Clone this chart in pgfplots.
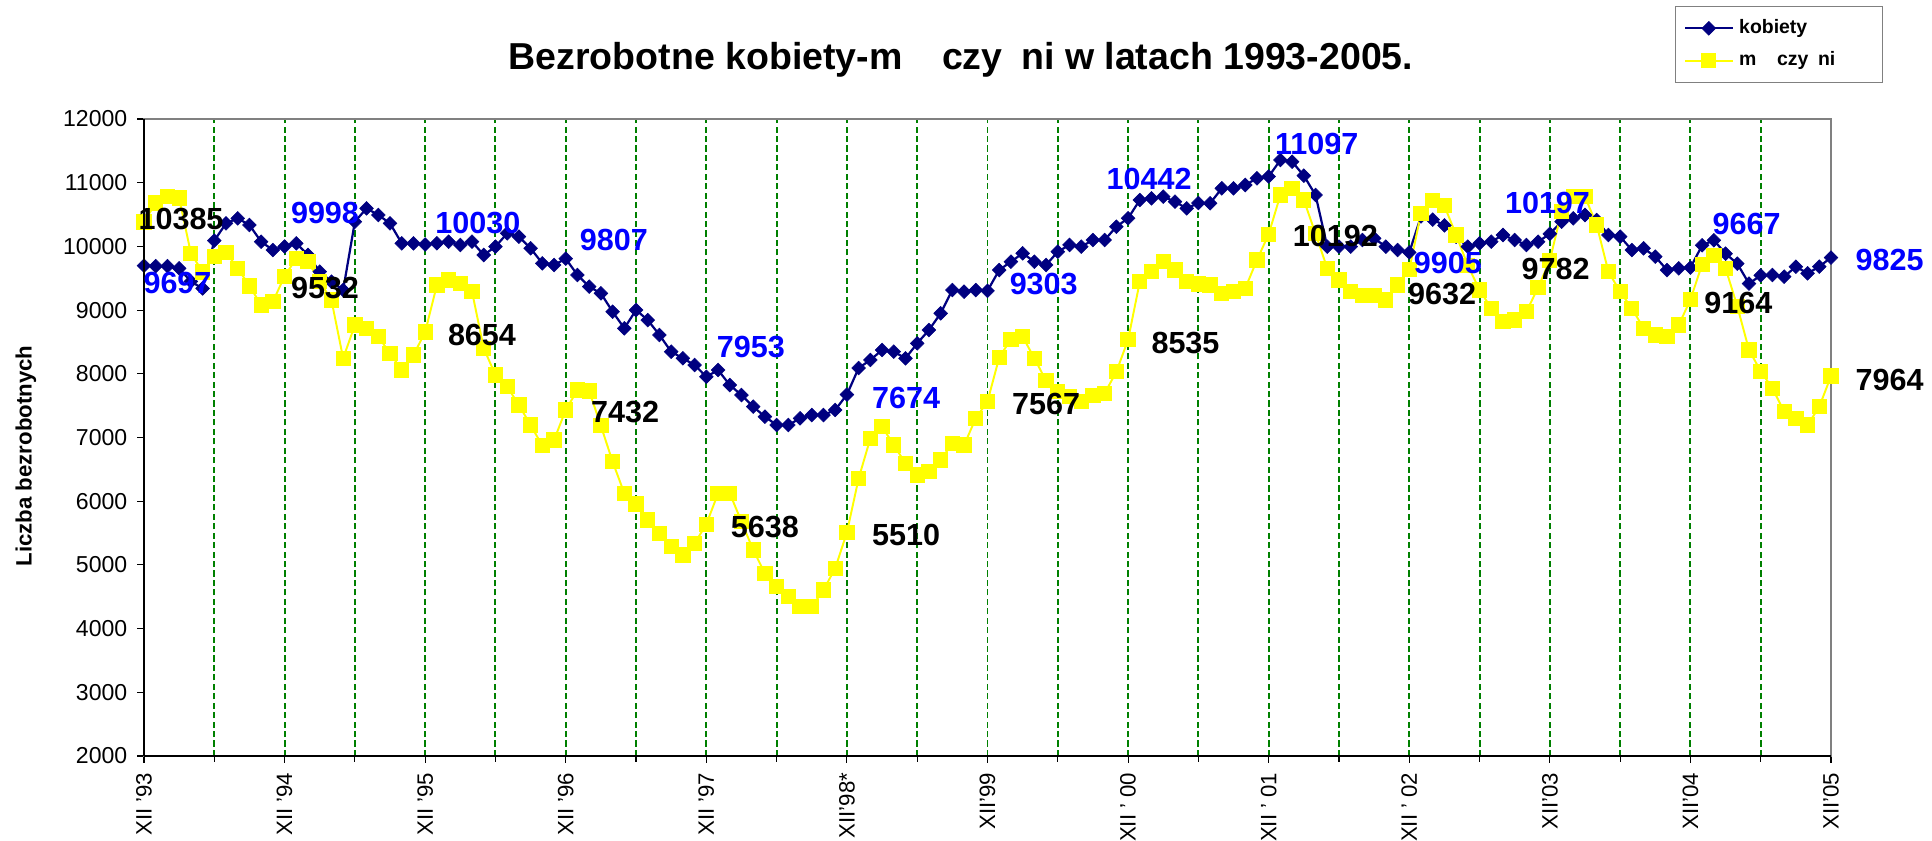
\documentclass[border=0pt]{standalone}
\usepackage{fontspec}
\setmainfont{Liberation Sans}
\usepackage{pgfplots}
\pgfplotsset{compat=1.18}
\usepackage{pgfplotstable}
\definecolor{kob}{RGB}{0,0,128}
\definecolor{mez}{RGB}{255,255,0}
\definecolor{lblue}{RGB}{0,0,255}
\definecolor{grn}{RGB}{0,128,0}

\pgfplotstableread{
i k m
0 9697 10385
1 9690 10680
2 9690 10785
3 9655 10760
4 9450 9893
5 9340 9600
6 10090 9840
7 10362 9905
8 10440 9658
9 10336 9380
10 10074 9080
11 9943 9132
12 9998 9532
13 10048 9813
14 9865 9760
15 9603 9450
16 9446 9158
17 9315 8243
18 10388 8766
19 10597 8714
20 10493 8583
21 10362 8321
22 10048 8060
23 10048 8295
24 10030 8654
25 10048 9394
26 10074 9472
27 10022 9420
28 10074 9289
29 9865 8400
30 9996 7981
31 10205 7798
32 10153 7510
33 9970 7196
34 9734 6870
35 9708 6961
36 9807 7432
37 9551 7745
38 9368 7730
39 9263 7183
40 8975 6620
41 8714 6123
42 9001 5956
43 8844 5705
44 8609 5495
45 8347 5286
46 8243 5155
47 8138 5338
48 7953 5638
49 8060 6123
50 7824 6123
51 7667 5680
52 7484 5234
53 7327 4868
54 7196 4659
55 7196 4501
56 7301 4344
57 7353 4344
58 7353 4606
59 7432 4946
60 7674 5510
61 8090 6358
62 8217 6986
63 8374 7170
64 8347 6882
65 8243 6594
66 8478 6411
67 8687 6463
68 8949 6647
69 9315 6908
70 9289 6882
71 9315 7301
72 9303 7567
73 9629 8256
74 9760 8544
75 9891 8583
76 9760 8243
77 9708 7890
78 9917 7720
79 10022 7641
80 9996 7563
81 10100 7654
82 10100 7693
83 10310 8033
84 10442 8535
85 10728 9446
86 10755 9603
87 10781 9760
88 10702 9629
89 10597 9446
90 10680 9410
91 10676 9394
92 10912 9263
93 10912 9289
94 10964 9342
95 11069 9786
96 11097 10192
97 11356 10807
98 11330 10912
99 11110 10728
100 10807 10200
101 9996 9656
102 9996 9472
103 9996 9289
104 10100 9224
105 10126 9224
106 9996 9158
107 9943 9394
108 9905 9632
109 10470 10519
110 10420 10715
111 10330 10637
112 10150 10179
113 9996 9700
114 10048 9316
115 10074 9028
116 10179 8818
117 10100 8844
118 10022 8975
119 10074 9355
120 10197 9782
121 10388 10545
122 10441 10781
123 10493 10781
124 10414 10336
125 10179 9603
126 10153 9289
127 9943 9028
128 9970 8714
129 9839 8609
130 9629 8583
131 9656 8766
132 9667 9164
133 10017 9720
134 10096 9852
135 9886 9656
136 9729 9060
137 9416 8374
138 9545 8040
139 9551 7772
140 9525 7405
141 9682 7301
142 9577 7196
143 9682 7484
144 9825 7964
}\data

\newcommand{\lbl}{\fontsize{11}{13}\selectfont\bfseries}

\begin{document}
\begin{tikzpicture}
\useasboundingbox (-51.84pt,-30.24pt) rectangle (643.68pt,272.16pt);
\begin{axis}[
  at={(0pt,0pt)}, anchor=south west,
  scale only axis, width=607.32pt, height=229.32pt,
  xmin=0, xmax=144, ymin=2000, ymax=12000,
  xtick={0,12,...,144},
  xticklabels={XII '93,XII '94,XII '95,XII '96,XII '97,XII'98*,XII'99,XII ' 00,XII ' 01,XII ' 02,XII'03,XII'04,XII'05},
  minor xtick={6,18,...,138},
  ytick={2000,3000,...,12000},
  scaled y ticks=false,
  xmajorgrids, xminorgrids,
  major grid style={grn, dash pattern=on 2.2pt off 1.2pt, line width=0.7pt},
  minor grid style={grn, dash pattern=on 2.2pt off 1.2pt, line width=0.7pt},
  tick align=outside, tick pos=left,
  major tick length=2.5pt, minor tick length=2pt,
  tick style={black, line width=0.4pt},
  axis line style={draw=gray, line width=0.8pt},
  yticklabel style={font=\fontsize{8.3}{9}\selectfont},
  xticklabel style={rotate=90, anchor=east, font=\fontsize{8}{9}\selectfont},
  /pgf/number format/assume math mode=true,
  /pgf/number format/set thousands separator={},
  ylabel={Liczba bezrobotnych},
  ylabel style={at={(axis description cs:-0.070,0.471)}, anchor=center, font=\fontsize{8}{9}\selectfont\bfseries},
  clip=false,
  legend style={at={(axis description cs:0.9075,1.1774)}, anchor=north west, draw=gray, line width=0.5pt, font=\fontsize{7}{8}\selectfont\bfseries, row sep=1.0pt, inner xsep=3pt, inner ysep=2.5pt, cells={anchor=west}},
]
\addplot[color=kob, line width=0.8pt, mark=square*, mark size=1.75pt, mark options={fill=kob, draw=kob, rotate=45, line width=0.2pt}] table[x=i,y=k]{\data};
\addlegendentry{kobiety}
\addplot[color=mez, line width=0.7pt, mark=square*, mark size=2.4pt, mark options={fill=mez, draw=mez}] table[x=i,y=m]{\data};
\addlegendentry{m\phantom{ęż}czy\phantom{ź}ni\rule{12pt}{0pt}}

\coordinate (SW) at (rel axis cs:0,0);
\coordinate (NW) at (rel axis cs:0,1);
\coordinate (SE) at (rel axis cs:1,0);
\coordinate (B1) at (axis cs:2.86,9425);
\coordinate (K1) at (axis cs:3.16,10430);
\coordinate (B2) at (axis cs:15.45,10524);
\coordinate (K2) at (axis cs:15.45,9354);
\coordinate (B3) at (axis cs:28.5,10367);
\coordinate (K3) at (axis cs:28.85,8609);
\coordinate (B4) at (axis cs:40.1,10100);
\coordinate (K4) at (axis cs:41.06,7408);
\coordinate (B5) at (axis cs:51.8,8428);
\coordinate (K5) at (axis cs:53.0,5602);
\coordinate (B6) at (axis cs:65.05,7628);
\coordinate (K6) at (axis cs:65.05,5469);
\coordinate (B7) at (axis cs:76.8,9410);
\coordinate (K7) at (axis cs:77.0,7533);
\coordinate (B8) at (axis cs:85.8,11058);
\coordinate (K8) at (axis cs:88.9,8491);
\coordinate (B9) at (axis cs:100.1,11607);
\coordinate (K9) at (axis cs:101.7,10163);
\coordinate (B10) at (axis cs:111.3,9747);
\coordinate (K10) at (axis cs:110.8,9253);
\coordinate (B11) at (axis cs:119.8,10689);
\coordinate (K11) at (axis cs:120.5,9645);
\coordinate (B12) at (axis cs:136.8,10352);
\coordinate (K12) at (axis cs:136.1,9119);
\coordinate (B13) at (axis cs:149.0,9786);
\coordinate (K13) at (axis cs:149.0,7902);
\end{axis}
\draw[black, line width=0.6pt] (SW) -- (NW);
\draw[black, line width=1pt] (SW) -- (SE);
\node[font=\lbl, text=lblue] at (B1) {9697};
\node[font=\lbl] at (K1) {10385};
\node[font=\lbl, text=lblue] at (B2) {9998};
\node[font=\lbl] at (K2) {9532};
\node[font=\lbl, text=lblue] at (B3) {10030};
\node[font=\lbl] at (K3) {8654};
\node[font=\lbl, text=lblue] at (B4) {9807};
\node[font=\lbl] at (K4) {7432};
\node[font=\lbl, text=lblue] at (B5) {7953};
\node[font=\lbl] at (K5) {5638};
\node[font=\lbl, text=lblue] at (B6) {7674};
\node[font=\lbl] at (K6) {5510};
\node[font=\lbl, text=lblue] at (B7) {9303};
\node[font=\lbl] at (K7) {7567};
\node[font=\lbl, text=lblue] at (B8) {10442};
\node[font=\lbl] at (K8) {8535};
\node[font=\lbl, text=lblue] at (B9) {11097};
\node[font=\lbl] at (K9) {10192};
\node[font=\lbl, text=lblue] at (B10) {9905};
\node[font=\lbl] at (K10) {9632};
\node[font=\lbl, text=lblue] at (B11) {10197};
\node[font=\lbl] at (K11) {9782};
\node[font=\lbl, text=lblue] at (B12) {9667};
\node[font=\lbl] at (K12) {9164};
\node[font=\lbl, text=lblue] at (B13) {9825};
\node[font=\lbl] at (K13) {7964};
\node[anchor=base, font=\fontsize{13.5}{16}\selectfont\bfseries] at (294.1pt,247.3pt) {Bezrobotne kobiety-m\phantom{ęż}czy\phantom{ź}ni w latach 1993-2005.};
\end{tikzpicture}
\end{document}
